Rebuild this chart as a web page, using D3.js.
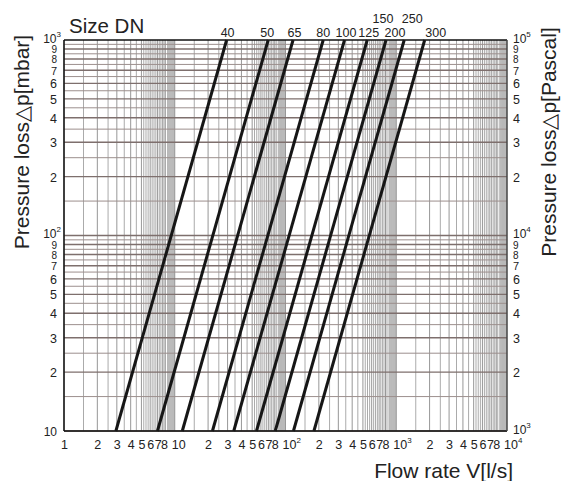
<!DOCTYPE html>
<html>
<head>
<meta charset="utf-8">
<script src="https://cdn.jsdelivr.net/npm/d3@7/dist/d3.min.js"></script>
<style>
  html, body { margin: 0; padding: 0; background: #fff; }
  svg { display: block; }
  text { font-family: "Liberation Sans", Arial, Helvetica, sans-serif; fill: #222; }
</style>
</head>
<body>
<svg id="chart" width="562" height="481"></svg>
<script>
// ---------- data ----------
const dnSizes        = ["40", "50", "65", "80", "100", "125", "150/200", "250", "300"];
const flowAt10mbar   = [2.94, 6.98, 11.7, 21.9, 34.1, 54.7, 80.8, 118, 180.6];   // l/s at Δp = 10 mbar
const flowAt1000mbar = [29.4, 69.8, 117, 219, 341, 547, 808, 1180, 1806];        // l/s at Δp = 1000 mbar
const dnLabels       = ["40", "50", "65", "80", "100", "125", "150", "200", "250", "300"];
const dnLabelLine    = [0, 1, 2, 3, 4, 5, 6, 6, 7, 8];
const xTickValues    = [1,2,3,4,5,6,7,8, 10,20,30,40,50,60,70,80, 100,200,300,400,500,600,700,800, 1000,2000,3000,4000,5000,6000,7000,8000, 10000];
const yTickValues    = [10,20,30,40,50,60,70,80,90, 100,200,300,400,500,600,700,800,900, 1000];
const yPaTickValues  = [1000,2000,3000,4000,5000,6000,7000,8000,9000, 10000,20000,30000,40000,50000,60000,70000,80000,90000, 100000];

// ---------- layout ----------
const L = 64, R = 507, T = 40, B = 431;
const labelDx  = [1, -1, 1.5, 0, 1.5, 1.5, -3, 9, 8, 11];
const labelRow = [0, 0, 0, 0, 0, 0, 1, 0, 1, 0];

const svg = d3.select("#chart");
const x   = d3.scaleLog().domain([1, 1e4]).range([L, R]);
const y   = d3.scaleLog().domain([10, 1000]).range([B, T]);
const yPa = d3.scaleLog().domain([1e3, 1e5]).range([B, T]);

// ---------- grid ----------
const grid = svg.append("g");
const vMult = d3.range(1, 5, 0.5).concat(d3.range(5, 8.5, 0.25));
const vBand = d3.range(8.6, 9.95, 0.1);
const decX = [1, 10, 100, 1000];
const vLines = [], vBandLines = [];
decX.forEach(d => {
  vMult.forEach(m => vLines.push({v: d * m, major: Number.isInteger(m)}));
  vBand.forEach(m => vBandLines.push(d * m));
});
grid.selectAll("line.vb").data(vBandLines).join("line")
  .attr("x1", d => x(d)).attr("x2", d => x(d)).attr("y1", T).attr("y2", B)
  .attr("stroke", "#b8b8b8").attr("stroke-width", 1);
grid.selectAll("line.v").data(vLines).join("line")
  .attr("x1", d => x(d.v)).attr("x2", d => x(d.v)).attr("y1", T).attr("y2", B)
  .attr("stroke", d => d.major ? "#979797" : "#ababab")
  .attr("stroke-width", 1);

const hLines = [];
[10, 100].forEach(d => d3.range(1, 10, 0.5).forEach(m => hLines.push({v: d * m, major: Number.isInteger(m)})));
grid.selectAll("line.h").data(hLines).join("line")
  .attr("x1", L).attr("x2", R).attr("y1", d => y(d.v)).attr("y2", d => y(d.v))
  .attr("stroke", d => d.major ? "#7e6f6d" : "#9c8f8d")
  .attr("stroke-width", d => d.major ? 1.4 : 1);

// ---------- frame ----------
svg.append("line").attr("x1", L).attr("x2", R).attr("y1", T).attr("y2", T).attr("stroke", "#111").attr("stroke-width", 1.5);
svg.append("line").attr("x1", L).attr("x2", R).attr("y1", B).attr("y2", B).attr("stroke", "#111").attr("stroke-width", 1.5);
svg.append("line").attr("x1", L).attr("x2", L).attr("y1", T).attr("y2", B).attr("stroke", "#111").attr("stroke-width", 1.5);
svg.append("line").attr("x1", R).attr("x2", R).attr("y1", T).attr("y2", B).attr("stroke", "#444").attr("stroke-width", 1.5);

// ---------- DN lines ----------
const lineGen = d3.line().x(d => x(d[0])).y(d => y(d[1]));
const series = dnSizes.map((s, i) => ({size: s, pts: [[flowAt10mbar[i], 10], [flowAt1000mbar[i], 1000]]}));
svg.append("g").selectAll("path").data(series).join("path")
  .attr("d", d => lineGen(d.pts))
  .attr("fill", "none").attr("stroke", "#161616").attr("stroke-width", 3);

// DN labels
svg.append("g").selectAll("text").data(dnLabels).join("text")
  .attr("x", (d, i) => x(flowAt1000mbar[dnLabelLine[i]]) + labelDx[i])
  .attr("y", (d, i) => labelRow[i] ? 22.5 : 37)
  .attr("text-anchor", "middle")
  .attr("font-size", "12.5px")
  .text(d => d);

svg.append("text").attr("x", 69).attr("y", 33).attr("font-size", "20.5px").text("Size DN");

// ---------- axes ----------
const isPow = v => Math.abs(Math.log10(v) - Math.round(Math.log10(v))) < 1e-9;
const mant = v => Math.round(v / Math.pow(10, Math.floor(Math.log10(v) + 1e-9)));
function powLabel(sel, v, showPlainTen) {
  const e = Math.round(Math.log10(v));
  if (!isPow(v)) { sel.text(String(mant(v))); return; }
  if (e === 0) { sel.text("1"); return; }
  if (e === 1 && showPlainTen) { sel.text("10"); return; }
  sel.append("tspan").text("10");
  sel.append("tspan").attr("font-size", "8px").attr("dy", "-6").text(e);
}
// crowded labels near the top of each decade are drawn smaller
const ySize = v => { if (isPow(v)) return "12px"; const m = mant(v); return m >= 8 ? "10px" : (m === 7 ? "11px" : "12.5px"); };

// bottom
const xAxis = svg.append("g").attr("transform", `translate(0,${B})`)
  .call(d3.axisBottom(x).tickValues(xTickValues).tickSize(0).tickFormat(() => ""));
xAxis.select(".domain").remove();
xAxis.selectAll(".tick text").each(function(v) {
  const t = d3.select(this).attr("y", 18).attr("dy", null).attr("font-size", "12.5px").attr("fill", "#222");
  if (isPow(v) && v > 1) t.attr("text-anchor", "start").attr("x", -3.5);
  powLabel(t, v, true);
});

// left
const yAxis = svg.append("g").attr("transform", `translate(${L},0)`)
  .call(d3.axisLeft(y).tickValues(yTickValues).tickSize(0).tickFormat(() => ""));
yAxis.select(".domain").remove();
yAxis.selectAll(".tick text").each(function(v) {
  const t = d3.select(this).attr("x", isPow(v) && v > 10 ? -3 : -7)
    .attr("dy", isPow(v) && v > 10 ? "0.2em" : "0.36em")
    .attr("font-size", ySize(v)).attr("fill", "#222");
  powLabel(t, v, true);
});

// right
const yAxisR = svg.append("g").attr("transform", `translate(${R},0)`)
  .call(d3.axisRight(yPa).tickValues(yPaTickValues).tickSize(0).tickFormat(() => ""));
yAxisR.select(".domain").remove();
yAxisR.selectAll(".tick text").each(function(v) {
  const t = d3.select(this).attr("x", 6).attr("dy", isPow(v) ? "0.2em" : "0.36em")
    .attr("font-size", ySize(v)).attr("fill", "#222");
  powLabel(t, v, false);
});

// ---------- titles ----------
svg.append("text").attr("transform", "translate(29,142) rotate(-90)")
  .attr("text-anchor", "middle").attr("font-size", "21px").text("Pressure loss△p[mbar]");
svg.append("text").attr("transform", "translate(556,142) rotate(-90)")
  .attr("text-anchor", "middle").attr("font-size", "21px").text("Pressure loss△p[Pascal]");
svg.append("text").attr("x", 513).attr("y", 478).attr("text-anchor", "end")
  .attr("font-size", "21px").text("Flow rate V[l/s]");
</script>
</body>
</html>
